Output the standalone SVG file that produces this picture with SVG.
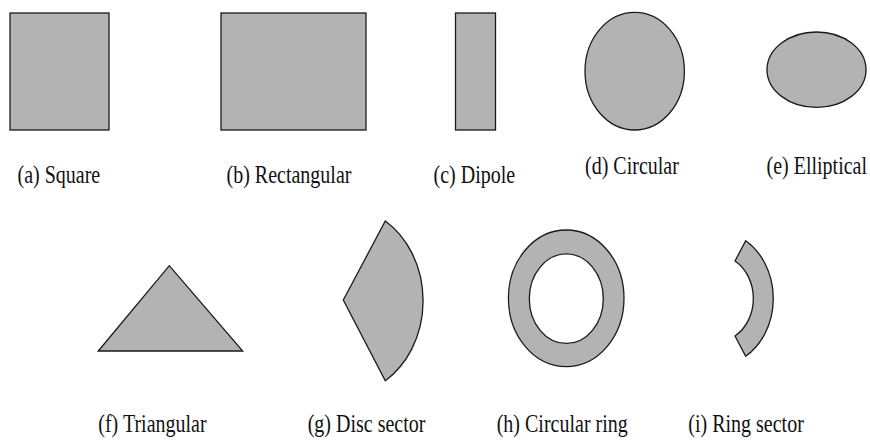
<svg xmlns="http://www.w3.org/2000/svg" width="870" height="442" viewBox="0 0 870 442">
<style>
.s{fill:#b3b3b3;stroke:#1a1a1a;stroke-width:1.3;stroke-linejoin:miter}
.t{font-family:"Liberation Serif","Times New Roman",serif;font-size:20px;fill:#111}
</style>
<rect width="870" height="442" fill="#fff"/>
<g id="square"><rect class="s" x="10" y="13" width="99" height="117"/>
<text class="t" transform="translate(17.5,183) scale(1,1.27)">(a) Square</text></g>
<g id="rectangular"><rect class="s" x="221" y="13" width="145" height="117"/>
<text class="t" transform="translate(226.5,183) scale(1,1.27)">(b) Rectangular</text></g>
<g id="dipole"><rect class="s" x="455.5" y="13" width="40" height="117"/>
<text class="t" transform="translate(433.5,183) scale(1,1.27)">(c) Dipole</text></g>
<g id="circular"><ellipse class="s" cx="634.7" cy="71.2" rx="49.7" ry="58.8"/>
<text class="t" transform="translate(585,173.5) scale(1,1.27)">(d) Circular</text></g>
<g id="elliptical"><ellipse class="s" cx="816.5" cy="69.7" rx="49.5" ry="37.7"/>
<text class="t" transform="translate(766.5,173.5) scale(1,1.27)">(e) Elliptical</text></g>
<g id="triangular"><polygon class="s" points="98.3,351 169.3,265.7 242.7,351"/>
<text class="t" transform="translate(98.3,431.5) scale(1,1.27)">(f) Triangular</text></g>
<g id="disc-sector"><path class="s" d="M343.3 300 L385.3 221 A80 94 0 0 1 385.3 380.7 Z"/>
<text class="t" transform="translate(307.7,431.5) scale(1,1.27)">(g) Disc sector</text></g>
<g id="circular-ring"><path class="s" fill-rule="evenodd" d="M508.4 298.3 A57.8 68.3 0 1 0 624 298.3 A57.8 68.3 0 1 0 508.4 298.3 Z M529.3 298.7 A37 44.7 0 1 0 603.3 298.7 A37 44.7 0 1 0 529.3 298.7 Z"/>
<text class="t" transform="translate(496.7,431.5) scale(1,1.27)">(h) Circular ring</text></g>
<g id="ring-sector"><path class="s" d="M745.7 240.7 A57.3 67.6 0 0 1 745.7 356.3 L735 336 A36.7 43.3 0 0 0 735 261 Z"/>
<text class="t" transform="translate(688.3,431.5) scale(1,1.27)">(i) Ring sector</text></g>
<g id="connectors"/>
</svg>
